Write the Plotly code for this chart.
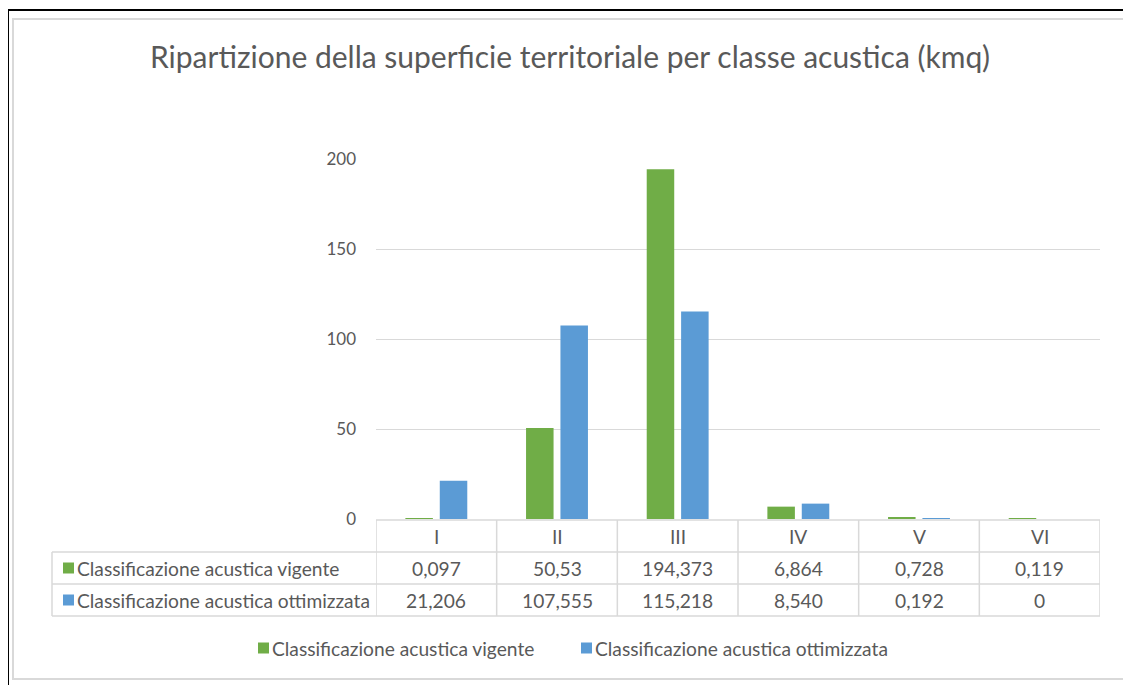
import plotly.graph_objects as go

categories = ["I", "II", "III", "IV", "V", "VI"]
vigente_txt = ["0,097", "50,53", "194,373", "6,864", "0,728", "0,119"]
ottimizzata_txt = ["21,206", "107,555", "115,218", "8,540", "0,192", "0"]
vigente = [float(s.replace(",", ".")) for s in vigente_txt]
ottimizzata = [float(s.replace(",", ".")) for s in ottimizzata_txt]
series_names = ["Classificazione acustica vigente", "Classificazione acustica ottimizzata"]
y_ticks = [0, 50, 100, 150, 200]

GREEN = "#70AD47"
BLUE = "#5B9BD5"
TXT = "#595959"
GRID = "#D9D9D9"
FONT = "Lato"

# page body has an 8px margin: work in reference pixel coords, offset by it
OX, OY = 8, 8
W, H = 1131 - OX, 685 - OY
PLOT_L, PLOT_R, PLOT_T, PLOT_B = 376, 1100, 159, 519
L, R, T, B = PLOT_L - OX, W - (PLOT_R - OX), PLOT_T - OY, H - (PLOT_B - OY)
PW, PH = W - L - R, H - T - B


def px(x):
    return (x - OX - L) / PW


def py(y):
    return (H - B - (y - OY)) / PH


fig = go.Figure()
fig.add_trace(go.Bar(x=categories, y=vigente, name=series_names[0],
                     marker=dict(color=GREEN, line=dict(width=0))))
fig.add_trace(go.Bar(x=categories, y=ottimizzata, name=series_names[1],
                     marker=dict(color=BLUE, line=dict(width=0))))

shapes = []
ann = []
# outer frames
shapes.append(dict(type="rect", xref="paper", yref="paper", x0=px(8), x1=px(1145), y0=py(10), y1=py(700),
                   line=dict(color="#000000", width=2), layer="below"))
shapes.append(dict(type="rect", xref="paper", yref="paper", x0=px(13), x1=px(1124), y0=py(19), y1=py(679),
                   line=dict(color=GRID, width=2), layer="below"))

# data table
row_tops = [520, 552, 584, 616]
left_x = 52
n = len(categories)
lc = dict(color=GRID, width=1.5)
shapes.append(dict(type="line", xref="x", yref="paper", x0=-0.5, x1=n - 0.5,
                   y0=py(row_tops[0]), y1=py(row_tops[0]), line=lc))
for yy in row_tops[1:]:
    shapes.append(dict(type="line", xref="paper", yref="paper", x0=px(left_x), x1=1,
                       y0=py(yy), y1=py(yy), line=lc))
for k in range(n + 1):
    shapes.append(dict(type="line", xref="x", yref="paper", x0=k - 0.5, x1=k - 0.5,
                       y0=py(row_tops[0]), y1=py(row_tops[3]), line=lc))
shapes.append(dict(type="line", xref="paper", yref="paper", x0=px(left_x), x1=px(left_x),
                   y0=py(row_tops[1]), y1=py(row_tops[3]), line=lc))

fs = 19.2
tfont = dict(family=FONT, size=fs, color=TXT)
for i, c in enumerate(categories):
    for r, txt in enumerate([c, vigente_txt[i], ottimizzata_txt[i]]):
        ann.append(dict(x=c, xref="x", y=py((row_tops[r] + row_tops[r + 1]) / 2), yref="paper", text=txt,
                        showarrow=False, font=tfont, xanchor="center", yanchor="middle"))

for r, (name, col) in enumerate(zip(series_names, [GREEN, BLUE])):
    yc = (row_tops[r + 1] + row_tops[r + 2]) / 2
    shapes.append(dict(type="rect", xref="paper", yref="paper", x0=px(63), x1=px(74),
                       y0=py(yc - 5.5), y1=py(yc + 5.5), line=dict(width=0), fillcolor=col))
    ann.append(dict(x=px(75), xref="paper", y=py(yc), yref="paper", text=name, showarrow=False,
                    font=tfont, xanchor="left", yanchor="middle"))

# legend below the table
leg_y = 648
for name, col, sx in zip(series_names, [GREEN, BLUE], [258, 581]):
    shapes.append(dict(type="rect", xref="paper", yref="paper", x0=px(sx), x1=px(sx + 11),
                       y0=py(leg_y - 5.5), y1=py(leg_y + 5.5), line=dict(width=0), fillcolor=col))
    ann.append(dict(x=px(sx + 12), xref="paper", y=py(leg_y), yref="paper", text=name, showarrow=False,
                    font=tfont, xanchor="left", yanchor="middle"))

fig.update_layout(
    width=W, height=H,
    margin=dict(l=L, r=R, t=T, b=B),
    paper_bgcolor="white", plot_bgcolor="white",
    barmode="group", bargap=0.43, bargroupgap=0.2,
    showlegend=False,
    title=dict(text="Ripartizione della superficie territoriale per classe acustica (kmq)",
               x=(570 - OX) / W, xref="container", xanchor="center",
               y=1 - (57 - OY) / H, yref="container", yanchor="middle",
               font=dict(family=FONT, size=30, color=TXT)),
    xaxis=dict(showticklabels=False, showgrid=False, zeroline=False, showline=False, ticks="",
               range=[-0.5, n - 0.5]),
    yaxis=dict(range=[0, 200], tickvals=y_ticks, showgrid=True, gridcolor=GRID, gridwidth=1,
               zeroline=False, showline=False, ticks="", ticklabelstandoff=19,
               tickfont=dict(family=FONT, size=17, color=TXT)),
    shapes=shapes, annotations=ann,
)

fig.write_html("out.html")
